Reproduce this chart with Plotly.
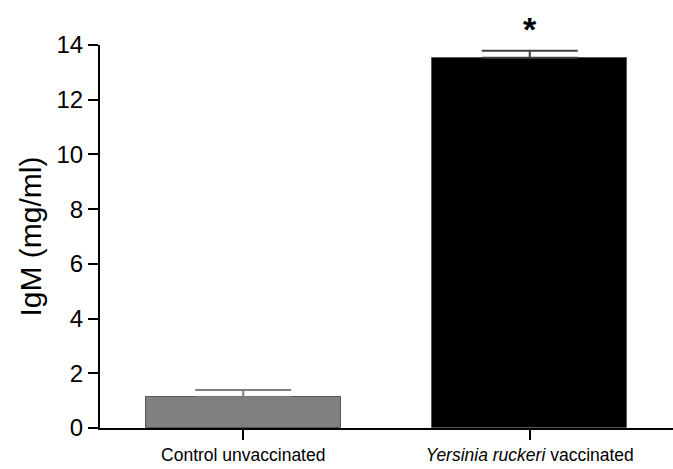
import plotly.graph_objects as go

# IgM serum levels by group
groups = ["Control unvaccinated", "<i>Yersinia ruckeri</i> vaccinated"]
igm_mean = [1.12, 13.53]
igm_err = [0.27, 0.26]
bar_colors = ["#808080", "#000000"]
err_colors = ["#808080", "#404040"]
ytick_vals = [0, 2, 4, 6, 8, 10, 12, 14]
significance = ["", "*"]

fig = go.Figure()
for i, g in enumerate(groups):
    fig.add_trace(go.Bar(
        x=[i], y=[igm_mean[i]],
        width=0.68,
        marker=dict(color=bar_colors[i], line=dict(color="#555555", width=1)),
        error_y=dict(type="data", array=[igm_err[i]], arrayminus=[0], symmetric=False,
                     color=err_colors[i], thickness=2, width=48),
        showlegend=False,
    ))
    if significance[i]:
        fig.add_annotation(x=i, y=igm_mean[i] + igm_err[i], yshift=22,
                           text="<b>" + significance[i] + "</b>",
                           showarrow=False, font=dict(size=34, color="black",
                                                      family="Liberation Sans"))

fig.update_layout(
    width=673, height=469,
    margin=dict(l=100, r=0, t=45, b=41),
    paper_bgcolor="white", plot_bgcolor="white",
    font=dict(family="Liberation Sans, Arial", color="black"),
    bargap=0,
)
fig.update_xaxes(
    range=[-0.5, 1.5], tickvals=[0, 1], ticktext=groups,
    showline=True, linecolor="black", linewidth=2,
    ticks="outside", ticklen=10, tickwidth=2, tickcolor="black",
    tickfont=dict(size=17.5), showgrid=False, zeroline=False,
)
fig.update_yaxes(
    range=[0, 14], tickvals=ytick_vals,
    showline=True, linecolor="black", linewidth=2,
    ticks="outside", ticklen=10, tickwidth=2, tickcolor="black",
    tickfont=dict(size=24), showgrid=False, zeroline=False,
    title=dict(text="IgM (mg/ml)", font=dict(size=30), standoff=6),
)
fig.write_html("out.html")
